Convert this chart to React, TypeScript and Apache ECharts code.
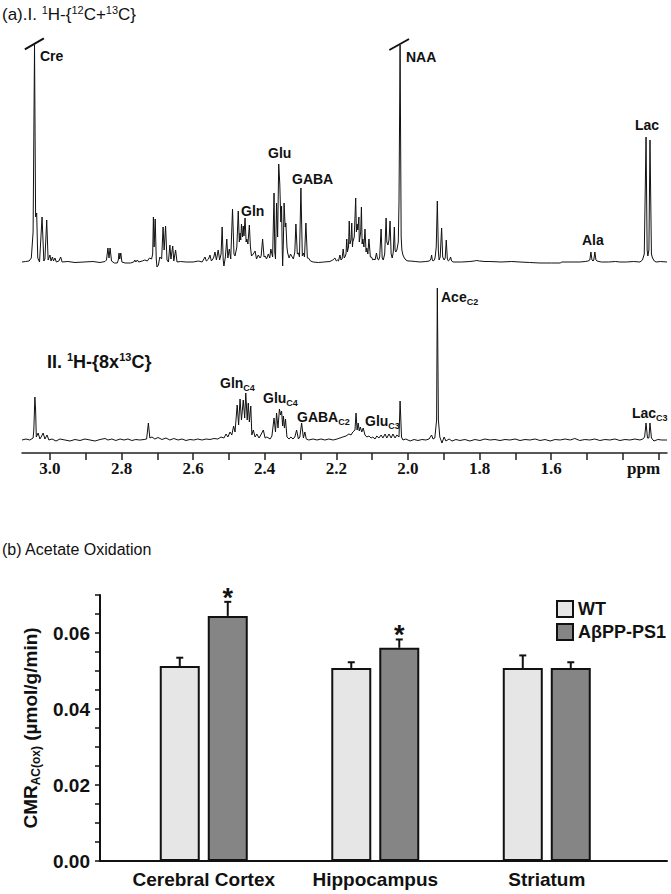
import React, { useEffect, useRef } from 'react';
import * as echarts from 'echarts';

const SANS = '"Liberation Sans", Arial, Helvetica, sans-serif';
const SERIF = '"Liberation Serif", "Times New Roman", serif';

// ---------- Spectrum I: 1H-{12C+13C}  [ppm, intensity] ----------
const spectrumI: [number, number][] = [
  [3.078, 0], [3.068, 0.5], [3.058, 1], [3.052, 4], [3.047, 30], [3.043, 217], [3.040, 45], [3.037, 49], [3.034, 4],
  [3.029, 0], [3.022, 45], [3.017, 1], [3.014, 3], [3.009, 42], [3.005, 2], [3.0, 7], [2.997, 1], [2.993, 5], [2.99, 1],
  [2.986, 4], [2.982, 0], [2.975, 1], [2.97, 5], [2.966, 0], [2.95, 0.5], [2.93, -0.5], [2.905, 0], [2.88, 0.5],
  [2.86, -0.5], [2.846, 0.5], [2.842, 2], [2.838, 14], [2.835, 4], [2.832, 14], [2.828, 1], [2.82, -1], [2.812, -1],
  [2.809, 2], [2.807, 9], [2.805, 3], [2.802, 9], [2.799, 0], [2.79, -1], [2.775, -1], [2.766, 0], [2.763, 2], [2.76, 0],
  [2.756, 2], [2.752, 0], [2.742, 1], [2.735, 2], [2.728, 1], [2.722, 4], [2.716, 3], [2.713, 8], [2.711, 45], [2.709, 15],
  [2.706, 43], [2.703, 3], [2.701, -5], [2.697, -3], [2.693, 5], [2.688, 3], [2.684, 35], [2.681, 12], [2.677, 36],
  [2.673, 2], [2.669, 0], [2.665, 17], [2.662, 3], [2.657, 16], [2.654, 1], [2.649, 12], [2.645, 0], [2.635, 0.5],
  [2.62, 0], [2.6, 0], [2.585, 1], [2.575, 0], [2.57, 3], [2.567, 5], [2.563, 1], [2.557, 3], [2.553, 7], [2.549, 1],
  [2.543, 4], [2.539, 10], [2.535, 2], [2.53, 12], [2.526, 2], [2.522, 8], [2.519, 35], [2.516, 2], [2.514, -4], [2.51, 5],
  [2.506, 23], [2.503, 4], [2.499, 13], [2.495, 3], [2.49, 53], [2.486, 8], [2.483, 6], [2.478, 15], [2.474, 51],
  [2.471, 20], [2.469, 29], [2.467, 22], [2.465, 38], [2.462, 25], [2.46, 36], [2.458, 26], [2.455, 44], [2.452, 20],
  [2.45, 23], [2.447, 18], [2.443, 37], [2.44, 15], [2.437, 6], [2.432, 8], [2.427, 11], [2.423, 3], [2.418, 7],
  [2.413, 4], [2.41, 6], [2.406, 23], [2.402, 5], [2.399, 6], [2.395, 3], [2.39, 8], [2.386, 4], [2.383, 13], [2.378, 5],
  [2.374, 69], [2.372, 10], [2.37, 3], [2.367, 59], [2.364, 25], [2.361, 98], [2.358, 78], [2.355, 40], [2.353, 56],
  [2.351, 10], [2.35, -4], [2.348, 20], [2.346, 59], [2.343, 35], [2.341, 39], [2.338, 15], [2.336, 9], [2.332, 4],
  [2.328, 8], [2.325, 6], [2.32, 3], [2.316, 10], [2.313, 38], [2.309, 8], [2.306, 9], [2.303, 5], [2.299, 74], [2.295, 6],
  [2.292, 9], [2.289, 5], [2.285, 39], [2.281, 4], [2.278, 4], [2.272, 1], [2.265, 0], [2.25, -0.5], [2.235, 0],
  [2.218, 0.5], [2.21, 2], [2.204, 4], [2.2, 1], [2.197, 2], [2.194, 1], [2.19, 7], [2.187, 2], [2.184, 3], [2.181, 13],
  [2.178, 4], [2.176, 5], [2.173, 8], [2.171, 23], [2.169, 10], [2.168, 12], [2.166, 15], [2.164, 41], [2.162, 18],
  [2.161, 20], [2.159, 22], [2.157, 39], [2.155, 15], [2.154, 20], [2.15, 25], [2.146, 64], [2.144, 30], [2.142, 38],
  [2.14, 32], [2.137, 45], [2.136, 20], [2.134, 25], [2.132, 30], [2.13, 55], [2.128, 18], [2.126, 23], [2.123, 15],
  [2.12, 33], [2.117, 10], [2.115, 14], [2.112, 8], [2.109, 23], [2.105, 5], [2.102, 5], [2.098, 2], [2.095, 3], [2.092, 2],
  [2.088, 9], [2.085, 3], [2.082, 2], [2.079, 5], [2.075, 33], [2.072, 4], [2.069, 2], [2.065, 8], [2.061, 44], [2.059, 20],
  [2.056, 17], [2.053, 22], [2.05, 41], [2.047, 8], [2.044, 4], [2.041, 10], [2.038, 35], [2.036, 12], [2.034, 10],
  [2.031, 12], [2.029, 16], [2.027, 20], [2.025, 60], [2.022, 217], [2.019, 25], [2.017, 12], [2.014, 7], [2.01, 4],
  [2.006, 2], [2.0, 1], [1.994, 1], [1.98, 0.5], [1.966, 0], [1.95, 0.5], [1.94, 1], [1.936, 3], [1.934, 7], [1.932, 2],
  [1.93, 1], [1.926, 2], [1.924, 5], [1.921, 15], [1.918, 61], [1.915, 10], [1.913, 2], [1.91, 5], [1.906, 34], [1.903, 5],
  [1.899, 2], [1.896, 4], [1.893, 22], [1.89, 3], [1.887, 1], [1.884, 2], [1.881, 5], [1.878, 1], [1.874, 0], [1.85, 0],
  [1.827, 0.5], [1.815, 1], [1.808, 1.5], [1.8, 1], [1.785, 0.5], [1.771, 0.5], [1.74, 0], [1.71, 0.5], [1.687, 0],
  [1.66, -0.5], [1.631, -1], [1.6, -1], [1.575, -1], [1.57, 0], [1.55, 0], [1.52, 0], [1.505, 0.5], [1.497, 1], [1.492, 2],
  [1.489, 10], [1.486, 2], [1.483, 1], [1.481, 2], [1.478, 10], [1.475, 2], [1.472, 1], [1.46, 0], [1.44, 0], [1.42, 0.5],
  [1.408, 0], [1.39, 0], [1.37, 0.5], [1.352, 0], [1.345, 2], [1.34, 8], [1.335, 125], [1.332, 12], [1.33, 6], [1.327, 12],
  [1.324, 122], [1.32, 8], [1.317, 4], [1.312, 1], [1.307, 0], [1.295, 0.5], [1.2765, 0],
];

// ---------- Spectrum II: 1H-{8x13C}  [ppm, intensity] ----------
const spectrumII: [number, number][] = [
  [3.078, 0], [3.067, 1], [3.056, 0], [3.047, 2], [3.045, 10], [3.042, 43], [3.04, 30], [3.038, 3], [3.033, 7], [3.028, 1],
  [3.023, 4], [3.019, 7], [3.014, 1], [3.008, 5], [3.003, 0], [2.994, 1], [2.983, -1], [2.972, 1], [2.958, 0], [2.944, -1],
  [2.93, 0.5], [2.916, -0.5], [2.902, 1], [2.888, 0], [2.874, -1], [2.86, 0.5], [2.846, 1.5], [2.838, 0], [2.827, 1],
  [2.816, -0.5], [2.804, 1], [2.793, 0], [2.782, 1], [2.771, -0.5], [2.76, 0.5], [2.749, 0], [2.737, 0.5], [2.73, 1],
  [2.725, 17], [2.721, 2], [2.715, 3], [2.707, 1], [2.698, 2.5], [2.687, 0.5], [2.676, 2], [2.665, 0], [2.654, 1.5],
  [2.642, 0], [2.631, 1], [2.62, -0.5], [2.609, 0.5], [2.598, 0], [2.587, 1], [2.575, 0], [2.564, 1], [2.553, 0.5],
  [2.542, 1.5], [2.531, 1], [2.522, 3], [2.514, 2], [2.508, 6], [2.503, 3], [2.497, 8], [2.492, 5], [2.487, 14], [2.483, 8],
  [2.477, 35], [2.473, 15], [2.469, 41], [2.465, 20], [2.46, 40], [2.456, 22], [2.453, 47], [2.449, 20], [2.446, 37],
  [2.443, 18], [2.439, 34], [2.436, 5], [2.432, 10], [2.427, 3], [2.422, 6], [2.416, 2], [2.411, 5], [2.404, 10], [2.399, 2],
  [2.394, 3], [2.385, 1], [2.38, 4], [2.374, 22], [2.37, 8], [2.367, 27], [2.363, 12], [2.359, 31], [2.356, 25], [2.353, 29],
  [2.35, 14], [2.348, 24], [2.345, 12], [2.342, 21], [2.338, 3], [2.332, 1], [2.327, 3], [2.321, 1], [2.316, 3], [2.311, 10],
  [2.306, 1], [2.302, 3], [2.297, 17], [2.292, 2], [2.288, 8], [2.284, 1], [2.277, 0], [2.265, 1], [2.254, 0], [2.243, 1],
  [2.232, 0], [2.221, 1], [2.209, 0], [2.198, 1], [2.19, 2], [2.182, 3], [2.173, 4], [2.165, 6], [2.159, 5], [2.154, 8],
  [2.148, 10], [2.145, 27], [2.142, 10], [2.139, 17], [2.136, 9], [2.133, 13], [2.129, 8], [2.125, 12], [2.12, 5], [2.115, 3],
  [2.109, 4], [2.103, 2], [2.098, 3], [2.092, 1], [2.087, 4], [2.081, 2], [2.075, 5], [2.07, 2], [2.064, 6], [2.059, 2],
  [2.053, 6], [2.047, 2], [2.042, 6], [2.036, 2], [2.031, 5], [2.025, 3], [2.022, 39], [2.018, 3], [2.014, 0], [2.006, 1],
  [1.994, -1], [1.983, 0.5], [1.972, -0.5], [1.961, 0.5], [1.95, 0], [1.941, 1], [1.934, 5], [1.93, 1], [1.925, 2],
  [1.92, 20], [1.918, 152], [1.915, 20], [1.911, 3], [1.905, -3], [1.899, 3], [1.894, -1], [1.885, 1], [1.877, -1],
  [1.866, 0.5], [1.855, -0.5], [1.841, 0.5], [1.827, -1], [1.813, 0.5], [1.799, -0.5], [1.785, 1], [1.771, 0], [1.757, 0.5],
  [1.743, -0.5], [1.729, 0.5], [1.715, 0], [1.701, 1], [1.687, -0.5], [1.673, 0.5], [1.659, 0], [1.645, 1], [1.631, -0.5],
  [1.617, 0.5], [1.603, -1], [1.589, 0.5], [1.575, 0], [1.561, 1], [1.547, 0], [1.534, 1.5], [1.52, -0.5], [1.506, 0.5],
  [1.492, 0], [1.478, 1], [1.464, -0.5], [1.45, 0.5], [1.436, 0], [1.422, 1], [1.408, -0.5], [1.394, 0.5], [1.38, 0],
  [1.366, 1], [1.352, 0], [1.344, 1], [1.339, 3], [1.335, 17], [1.331, 2], [1.327, 2], [1.324, 17], [1.32, 2], [1.313, -1],
  [1.302, 0.5], [1.291, 0], [1.2765, 0],
];

// axis-break slashes on the clipped Cre and NAA peaks [ppm, intensity]
const creBreak: [number, number][] = [[3.07, 212.7], [3.017, 223.7]];
const naaBreak: [number, number][] = [[2.052, 212], [1.997, 223]];

const ppmTickValues = [3.0, 2.9, 2.8, 2.7, 2.6, 2.5, 2.4, 2.3, 2.2, 2.1, 2.0, 1.9, 1.8, 1.7, 1.6, 1.5, 1.4, 1.3];
const ppmLabelValues = [3.0, 2.8, 2.6, 2.4, 2.2, 2.0, 1.8, 1.6];

// ---------- (b) Acetate oxidation ----------
const regions = ['Cerebral Cortex', 'Hippocampus', 'Striatum'];
const wtMean = [0.0513, 0.0508, 0.0508];
const wtSem = [0.0022, 0.0015, 0.0033];
const adMean = [0.0645, 0.0561, 0.0508];
const adSem = [0.0037, 0.0022, 0.0015];
const adSig = [true, true, false];
const cmrTickValues = [0, 0.005, 0.01, 0.015, 0.02, 0.025, 0.03, 0.035, 0.04, 0.045, 0.05, 0.055, 0.06, 0.065, 0.07];
const cmrLabelValues = [0, 0.02, 0.04, 0.06];

const peakRich = {
  m: { fontSize: 14, fontWeight: 'bold', fontFamily: SANS, fill: '#111', lineHeight: 18 },
  s: { fontSize: 9, fontWeight: 'bold', fontFamily: SANS, fill: '#111', lineHeight: 10, verticalAlign: 'bottom' },
};

function label(text: string, x: number, y: number) {
  return {
    type: 'text', x, y, silent: true,
    style: { text, rich: peakRich, verticalAlign: 'middle', align: 'left' },
  };
}

function errSeries(means: number[], sems: number[], offset: number, sig: boolean[] | null) {
  return {
    type: 'custom', xAxisIndex: 2, yAxisIndex: 2, silent: true, z: 5,
    data: means.map((m, i) => [i, m, sems[i], sig && sig[i] ? 1 : 0]),
    encode: { x: 0, y: 1 },
    renderItem: (params: any, api: any) => {
      const x = api.value(0), m = api.value(1), e = api.value(2), s = api.value(3);
      const p0 = api.coord([x, m]);
      const p1 = api.coord([x, m + e]);
      const cx = p0[0] + offset;
      const children: any[] = [
        { type: 'line', shape: { x1: cx, y1: p0[1], x2: cx, y2: p1[1] }, style: { stroke: '#111', lineWidth: 2 } },
        { type: 'line', shape: { x1: cx - 3.5, y1: p1[1], x2: cx + 3.5, y2: p1[1] }, style: { stroke: '#111', lineWidth: 2 } },
      ];
      if (s) {
        children.push({
          type: 'text', x: cx, y: p1[1] - 4,
          style: { text: '*', fontSize: 27, fontWeight: 'bold', fontFamily: SANS, fill: '#111', align: 'center', verticalAlign: 'middle' },
        });
      }
      return { type: 'group', children };
    },
  };
}

export default function App() {
  const ref = useRef<HTMLDivElement>(null);
  useEffect(() => {
    document.body.style.margin = '0';
    const chart = echarts.init(ref.current!, null, { renderer: 'svg' });
    const hiddenAxis = { show: false };
    const option: any = {
      animation: false,
      backgroundColor: '#ffffff',
      grid: [
        { left: 22, top: 32, width: 645, height: 240 },
        { left: 22, top: 283, width: 645, height: 170 },
        { left: 100, top: 595, width: 567, height: 266 },
      ],
      xAxis: [
        { gridIndex: 0, type: 'value', min: 1.2765, max: 3.078, inverse: true, ...hiddenAxis },
        {
          gridIndex: 1, type: 'value', min: 1.2765, max: 3.078, inverse: true,
          axisLine: { show: true, onZero: false, lineStyle: { color: '#222', width: 1.5 } },
          axisTick: { show: true, customValues: ppmTickValues, length: 7, inside: false, lineStyle: { color: '#222', width: 1.5 } },
          axisLabel: {
            customValues: ppmLabelValues, formatter: (v: number) => v.toFixed(1), margin: 7,
            fontSize: 17, fontWeight: 'bold', fontFamily: SERIF, color: '#111',
          },
          splitLine: { show: false },
        },
        {
          gridIndex: 2, type: 'value', min: -0.605, max: 2.701,
          axisLine: { show: true, onZero: false, lineStyle: { color: '#111', width: 2 } },
          axisTick: { show: false },
          axisLabel: {
            customValues: [0, 1, 2], formatter: (v: number) => regions[Math.round(v)], margin: 9,
            fontSize: 19, fontWeight: 'bold', fontFamily: SANS, color: '#111',
          },
          splitLine: { show: false },
        },
      ],
      yAxis: [
        { gridIndex: 0, type: 'value', min: -10, max: 230, ...hiddenAxis },
        { gridIndex: 1, type: 'value', min: -13, max: 157, ...hiddenAxis },
        {
          gridIndex: 2, type: 'value', min: 0, max: 0.07,
          axisLine: { show: true, onZero: false, lineStyle: { color: '#111', width: 2 } },
          axisTick: { show: true, customValues: cmrTickValues, length: 5, lineStyle: { color: '#111', width: 1.5 } },
          axisLabel: {
            customValues: cmrLabelValues, formatter: (v: number) => v.toFixed(2), margin: 10,
            fontSize: 19, fontWeight: 'bold', fontFamily: SANS, color: '#111',
          },
          splitLine: { show: false },
          name: '{m|CMR}{s|AC(ox)}{m| (µmol/g/min)}',
          nameLocation: 'middle', nameRotate: 90, nameGap: 56,
          nameTextStyle: {
            rich: {
              m: { fontSize: 19, fontWeight: 'bold', fontFamily: SANS, color: '#111', lineHeight: 23 },
              s: { fontSize: 12, fontWeight: 'bold', fontFamily: SANS, color: '#111', lineHeight: 13, verticalAlign: 'bottom' },
            },
          },
        },
      ],
      legend: {
        data: ['WT', 'AβPP-PS1'], orient: 'vertical', left: 551, top: 595,
        itemWidth: 16, itemHeight: 16, itemGap: 5, icon: 'rect',
        textStyle: { fontSize: 18, fontWeight: 'bold', fontFamily: SANS, color: '#111' },
        selectedMode: false,
      },
      series: [
        {
          type: 'line', xAxisIndex: 0, yAxisIndex: 0, data: spectrumI, showSymbol: false, symbol: 'none',
          lineStyle: { color: '#111', width: 1 }, silent: true,
          markLine: {
            silent: true, symbol: ['none', 'none'], label: { show: false }, animation: false,
            lineStyle: { color: '#111', width: 2, type: 'solid' },
            data: [
              [{ coord: creBreak[0] }, { coord: creBreak[1] }],
              [{ coord: naaBreak[0] }, { coord: naaBreak[1] }],
            ],
          },
        },
        {
          type: 'line', xAxisIndex: 1, yAxisIndex: 1, data: spectrumII, showSymbol: false, symbol: 'none',
          lineStyle: { color: '#111', width: 1 }, silent: true,
        },
        {
          name: 'WT', type: 'bar', xAxisIndex: 2, yAxisIndex: 2, barWidth: 40, barGap: '20%',
          data: wtMean.map((m, i) => [i, m]),
          itemStyle: { color: '#e6e6e6', borderColor: '#111', borderWidth: 2 },
        },
        {
          name: 'AβPP-PS1', type: 'bar', xAxisIndex: 2, yAxisIndex: 2, barWidth: 40, barGap: '20%',
          data: adMean.map((m, i) => [i, m]),
          itemStyle: { color: '#858585', borderColor: '#111', borderWidth: 2 },
        },
        errSeries(wtMean, wtSem, -24, null),
        errSeries(adMean, adSem, 24, adSig),
      ],
      graphic: [
        {
          type: 'text', x: 2, y: 14, silent: true,
          style: {
            // trailing "}" is plain text (rich syntax cannot hold it), styled by the element font
            text: '{n|(a).I. }{p|1}{n|H-{}{p|12}{n|C+}{p|13}{n|C}}',
            fontSize: 17, fontFamily: SANS, fill: '#111',
            verticalAlign: 'middle',
            rich: {
              n: { fontSize: 17, fontFamily: SANS, fill: '#111', lineHeight: 20 },
              p: { fontSize: 11, fontFamily: SANS, fill: '#111', lineHeight: 11, verticalAlign: 'top' },
            },
          },
        },
        {
          type: 'text', x: 47, y: 362, silent: true,
          style: {
            text: '{n|II. }{p|1}{n|H-{8x}{p|13}{n|C}}',
            fontSize: 18, fontWeight: 'bold', fontFamily: SANS, fill: '#111',
            verticalAlign: 'middle',
            rich: {
              n: { fontSize: 18, fontWeight: 'bold', fontFamily: SANS, fill: '#111', lineHeight: 22 },
              p: { fontSize: 11, fontWeight: 'bold', fontFamily: SANS, fill: '#111', lineHeight: 11, verticalAlign: 'top' },
            },
          },
        },
        label('{m|Cre}', 40, 56),
        label('{m|NAA}', 406, 57),
        label('{m|Glu}', 268, 153),
        label('{m|GABA}', 292, 179),
        label('{m|Gln}', 241, 211),
        label('{m|Lac}', 635, 125),
        label('{m|Ala}', 582, 240),
        label('{m|Gln}{s|C4}', 220, 383),
        label('{m|Glu}{s|C4}', 263, 398),
        label('{m|GABA}{s|C2}', 297, 417),
        label('{m|Glu}{s|C3}', 365, 421),
        label('{m|Ace}{s|C2}', 441, 297),
        label('{m|Lac}{s|C3}', 632, 413),
        {
          type: 'text', x: 627, y: 468, silent: true,
          style: { text: 'ppm', fontSize: 17, fontWeight: 'bold', fontFamily: SERIF, fill: '#111', verticalAlign: 'middle' },
        },
        {
          type: 'text', x: 2, y: 549, silent: true,
          style: { text: '(b) Acetate Oxidation', fontSize: 16, fontFamily: SANS, fill: '#111', verticalAlign: 'middle' },
        },
      ],
    };
    chart.setOption(option);
    return () => chart.dispose();
  }, []);
  return <div ref={ref} style={{ width: 671, height: 894 }} />;
}
